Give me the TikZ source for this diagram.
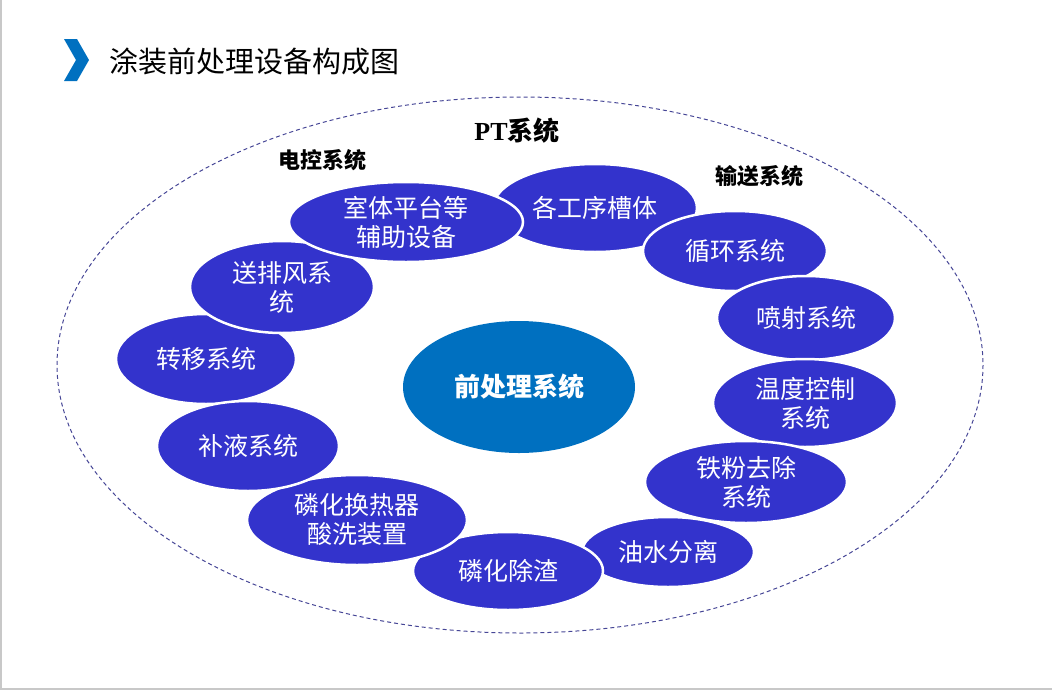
\documentclass[tikz,border=0pt]{standalone}
\usepackage{fontspec}
\newfontfamily\cjk{Noto Sans CJK SC}
\newfontfamily\latinserif{Liberation Serif}
\usetikzlibrary{shapes.geometric}
\definecolor{partblue}{RGB}{51,51,204}
\definecolor{coreblue}{RGB}{0,112,192}
\definecolor{ringline}{RGB}{70,70,150}
\definecolor{edgegray}{RGB}{200,200,200}

\begin{document}
\begin{tikzpicture}[x=1pt, y=-1pt,
  part/.style={ellipse, fill=partblue, draw=white, line width=2.5pt, inner sep=0pt,
    text=white, align=center, font=\cjk\fontsize{25}{29}\selectfont},
  group/.style={font=\cjk\bfseries\fontsize{22}{24}\selectfont}]
  \useasboundingbox (0,0) rectangle (1052,691);
  \draw[edgegray, line width=1.5pt] (1,0) -- (1,689) -- (1052,689);

  % Title
  \fill[coreblue] (64,39) -- (77,39) -- (89,60) -- (77,81) -- (64,81) -- (76,60) -- cycle;
  \node[anchor=west, font=\cjk\fontsize{29}{32}\selectfont] (title) at (106,61) {涂装前处理设备构成图};

  % Outer ring
  \draw[ringline, line width=1pt, dash pattern=on 4pt off 3pt] (520,365) ellipse (463 and 268);
  \node[font=\cjk\bfseries\fontsize{26}{28}\selectfont] (pt) at (517,131) {{\latinserif\bfseries PT}系统};
  \node[group] (ctrl) at (322,160) {电控系统};
  \node[group] (conv) at (759,176) {输送系统};

  % Parts, drawn round the ring
  \node[part, minimum width=204, minimum height=88] (tank) at (595,208) {各工序槽体};
  \node[part, minimum width=184, minimum height=80] (circ) at (735,251) {循环系统};
  \node[part, minimum width=178, minimum height=84] (spray) at (806,318) {喷射系统};
  \node[part, minimum width=184, minimum height=88] (temp) at (805,403) {温度控制\\系统};
  \node[part, minimum width=202, minimum height=82] (iron) at (746,482) {铁粉去除\\系统};
  \node[part, minimum width=172, minimum height=70] (oil) at (668,552) {油水分离};
  \node[part, minimum width=190, minimum height=78] (slag) at (508,571) {磷化除渣};
  \node[part, minimum width=220, minimum height=90] (heat) at (357,520) {磷化换热器\\酸洗装置};
  \node[part, minimum width=180, minimum height=90] (move) at (206,359) {转移系统};
  \node[part, minimum width=182, minimum height=90] (fill) at (248,446) {补液系统};
  \node[part, minimum width=184, minimum height=92] (air) at (282,287) {送排风系\\统};
  \node[part, minimum width=234, minimum height=80] (room) at (406,222) {室体平台等\\辅助设备};

  % Centre
  \node[ellipse, fill=coreblue, minimum width=232, minimum height=132, inner sep=0pt,
    text=white, font=\cjk\bfseries\fontsize{26}{28}\selectfont] (core) at (519,387) {前处理系统};
\end{tikzpicture}
\end{document}
